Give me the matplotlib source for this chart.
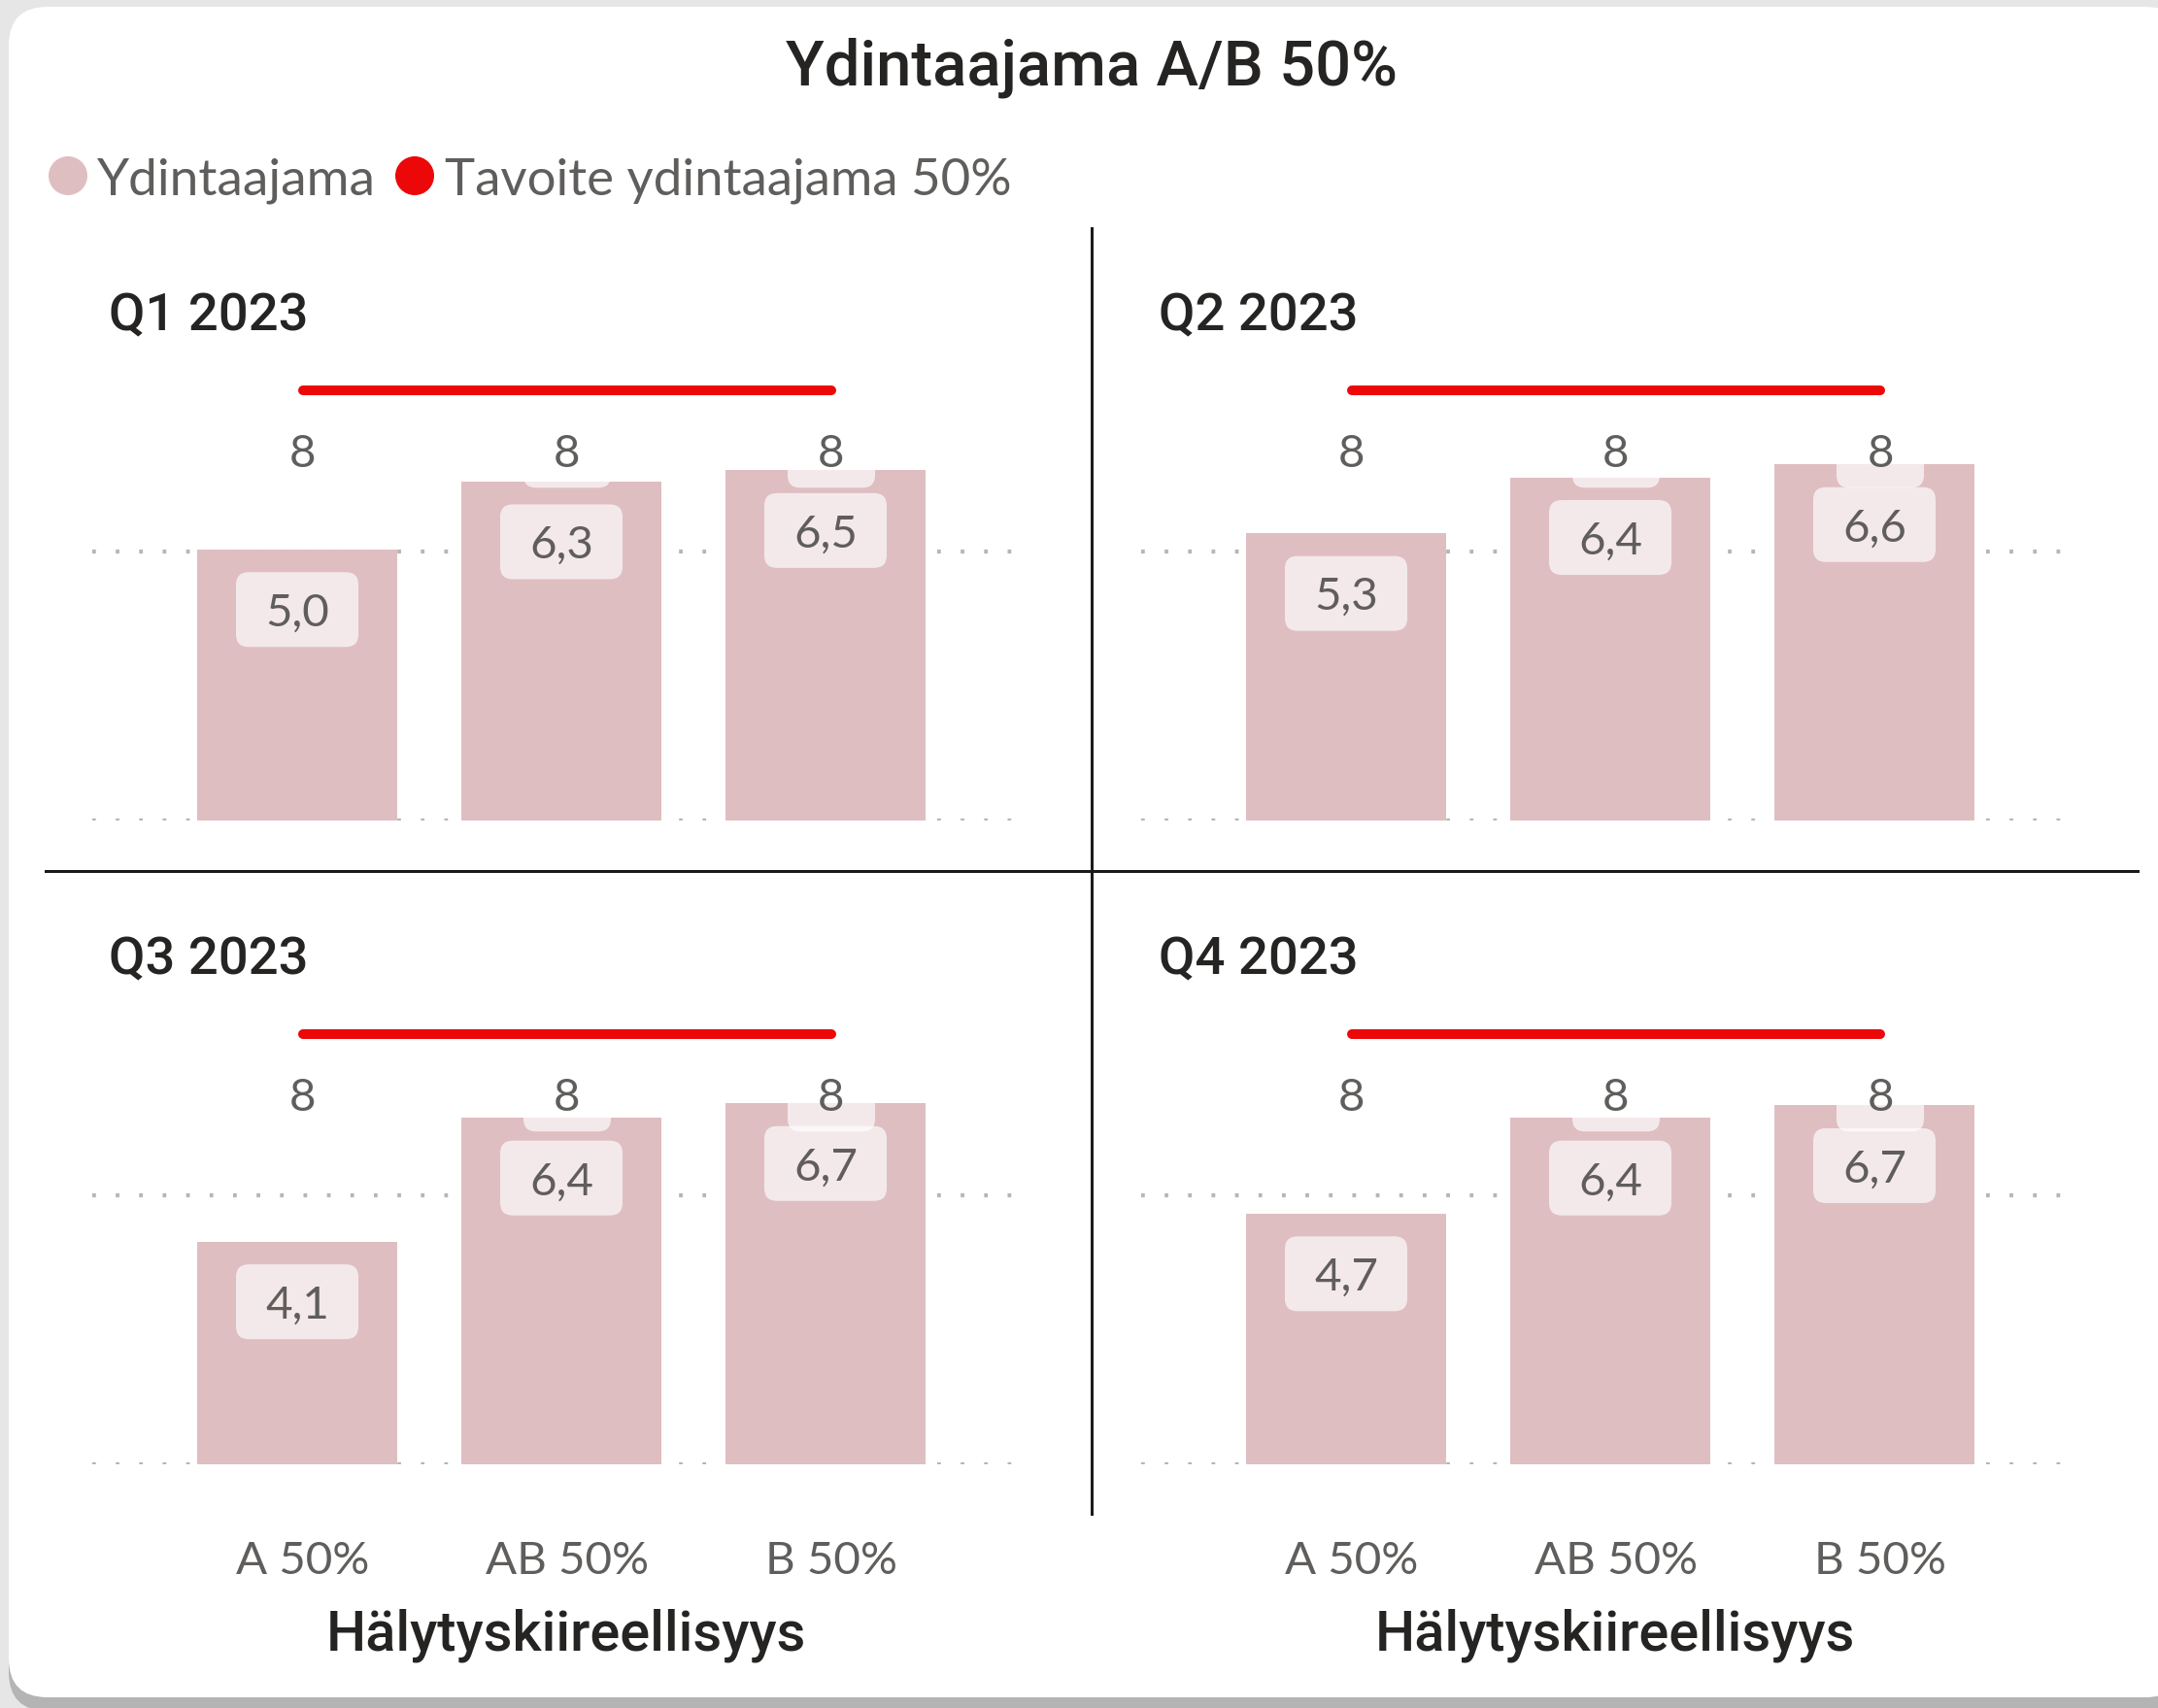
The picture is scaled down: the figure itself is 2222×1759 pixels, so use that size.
import matplotlib
matplotlib.use('Agg')
import matplotlib.pyplot as plt
import matplotlib.transforms as mtransforms
from matplotlib.patches import FancyBboxPatch, Circle
from matplotlib.lines import Line2D

# data
quarters = ['Q1 2023', 'Q2 2023', 'Q3 2023', 'Q4 2023']
categories = ['A 50%', 'AB 50%', 'B 50%']
q1_values = [5.04, 6.30, 6.51]
q2_values = [5.34, 6.38, 6.62]
q3_values = [4.14, 6.44, 6.71]
q4_values = [4.66, 6.44, 6.67]
target = [8, 8, 8]
series_values = [q1_values, q2_values, q3_values, q4_values]

W, H, DPI = 2222, 1759, 200
PT = DPI / 72.0  # pixels per point

BAR = '#DFBEC1'
RED = '#EC0808'
GREY = '#605E5C'
DARK = '#252423'
GRID = '#B8B5B2'

SEGOE = ['Lato', 'Open Sans', 'DejaVu Sans']
DIN = ['Roboto', 'DejaVu Sans']

plt.rcParams['font.family'] = SEGOE

fig = plt.figure(figsize=(W / DPI, H / DPI), dpi=DPI)
fig.patch.set_facecolor('#E6E6E6')

# pixel coordinates, origin top-left
px = mtransforms.Affine2D().scale(1.0 / W, -1.0 / H).translate(0, 1) + fig.transFigure
# power bi draws the line series and category labels a few px right of the bars
nudge = mtransforms.ScaledTranslation(6 / DPI, 0, fig.dpi_scale_trans)

# card with a bit of shadow (behind the axes)
fig.patches.append(FancyBboxPatch((9, 20), 2240, 1742, boxstyle='round,pad=0,rounding_size=40',
                                  transform=px, fc='#B4B4B4', ec='none', zorder=-3))
fig.patches.append(FancyBboxPatch((9, 7), 2240, 1741, boxstyle='round,pad=0,rounding_size=40',
                                  transform=px, fc='white', ec='none', zorder=-2))

# title
fig.text(1124 / W, 1 - 87.5 / H, 'Ydintaajama A/B 50%', ha='center', va='baseline',
         family=DIN, fontsize=23.5, weight='medium', color=DARK)

# legend
fig.patches.append(Circle((70, 181), 20, transform=px, fc=BAR, ec='none', zorder=2))
fig.patches.append(Circle((427, 181), 20, transform=px, fc=RED, ec='none', zorder=2))
fig.text(100 / W, 1 - 200 / H, 'Ydintaajama', ha='left', va='baseline', fontsize=19.2, color=GREY)
fig.text(458 / W, 1 - 200 / H, 'Tavoite ydintaajama 50%', ha='left', va='baseline',
         fontsize=19.0, color=GREY)

# dividers
fig.lines.append(Line2D([1124, 1124], [235, 1559], transform=px, color='#1B1B1B', lw=3 / PT, zorder=2))
fig.lines.append(Line2D([47, 2201], [897, 897], transform=px, color='#1B1B1B', lw=3 / PT, zorder=2))

lefts = [95.2, 1175.2]
baselines = [845, 1508]
title_x = [112, 1193]
title_base = [340, 1003]
unit = 55.4
x = list(range(len(categories)))


def value_label(ax, xi, yi, text, width_px, dx=0):
    # rounded pale box + text, hanging below the value
    off = 62
    trans = fig.dpi_scale_trans + mtransforms.ScaledTranslation(xi, yi, ax.transData)
    w, h = width_px / DPI, 77 / DPI
    box = FancyBboxPatch((dx / DPI - w / 2, -off / DPI - h / 2), w, h,
                         boxstyle='round,pad=0,rounding_size=%f' % (13 / DPI),
                         transform=trans, fc='white', alpha=0.68, ec='none', zorder=3)
    ax.add_patch(box)
    ax.annotate(text, (xi, yi), xytext=(dx / PT, -(off + 17) / PT), textcoords='offset points',
                ha='center', va='baseline', fontsize=17.1, color=GREY, zorder=4)


for k, (quarter, vals) in enumerate(zip(quarters, series_values)):
    col, row = k % 2, k // 2
    ax = fig.add_axes([lefts[col] / W, (H - baselines[row]) / H, 965.6 / W, 10 * unit / H])
    ax.set_facecolor('none')
    for s in ax.spines.values():
        s.set_visible(False)

    for g in (0, 5):
        ax.axhline(g, color=GRID, lw=1.5, dashes=(0.9, 4.9), dash_capstyle='butt', zorder=1)

    ax.bar(x, vals, width=0.76, color=BAR, zorder=2)
    ax.plot(x, target, color=RED, lw=10 / PT, solid_capstyle='round', zorder=5,
            transform=ax.transData + nudge)

    for xi, v in zip(x, vals):
        value_label(ax, xi, v, ('%.1f' % v).replace('.', ','), 126)
    for xi, t in zip(x, target):
        value_label(ax, xi, t, str(t), 90, dx=6)

    ax.set_xlim(-0.775, 2.775)
    ax.set_ylim(0, 10)
    ax.set_yticks([])
    if row == 1:
        ax.set_xticks(x, categories)
        ax.tick_params(axis='x', length=0, pad=113 / PT, labelsize=17.1, labelcolor=GREY)
        for t in ax.get_xticklabels():
            t.set_va('baseline')
            t.set_transform(t.get_transform() + nudge)
        ax.annotate('Hälytyskiireellisyys', (0.5, 0), xycoords='axes fraction',
                    xytext=(5 / PT, -192 / PT), textcoords='offset points', ha='center',
                    va='baseline', family=DIN, fontsize=20.8, weight='medium', color=DARK)
    else:
        ax.set_xticks([])

    fig.text(title_x[col] / W, 1 - title_base[row] / H, quarter, ha='left', va='baseline',
             family=DIN, fontsize=19.6, weight='medium', color=DARK)

fig.savefig('out.png', dpi=DPI, facecolor=fig.get_facecolor())
